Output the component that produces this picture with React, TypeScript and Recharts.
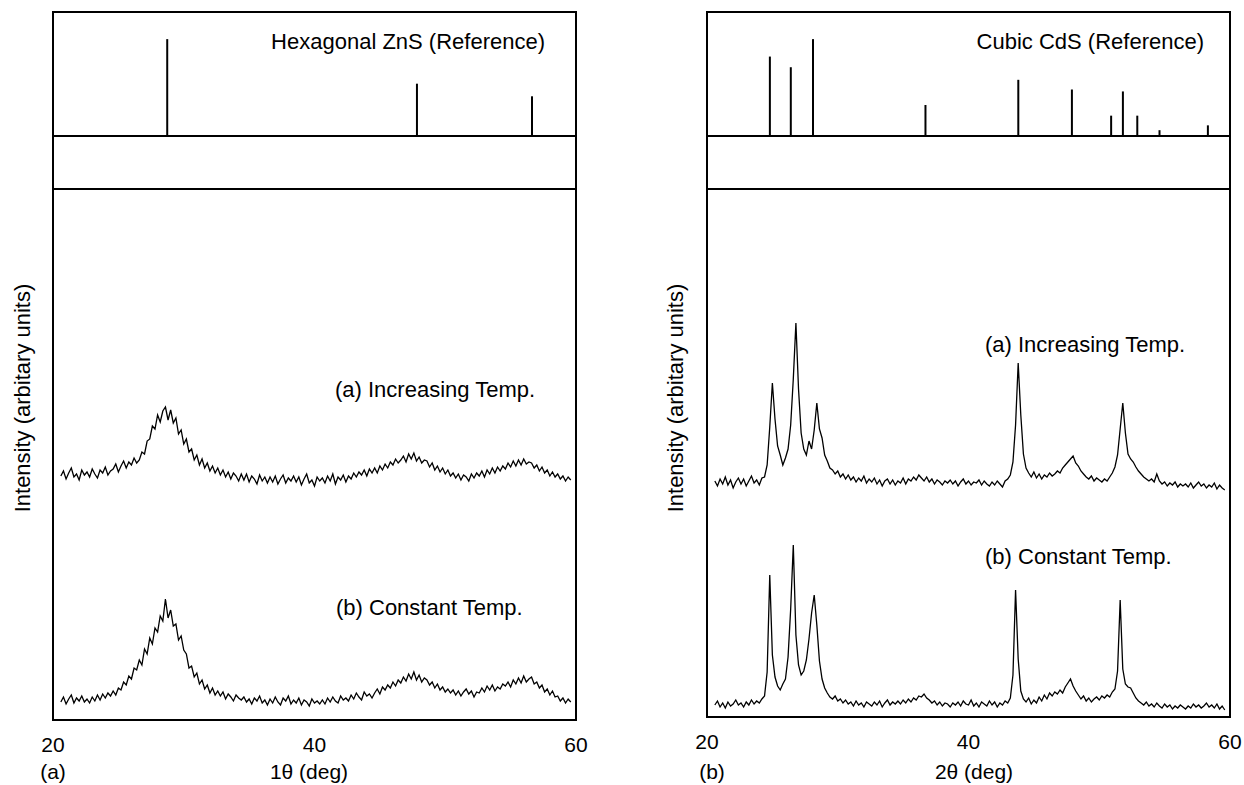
import { BarChart, Bar, LineChart, Line, XAxis, YAxis } from 'recharts';

// XRD scans: 20.6° .. 59.6°, one reading every 0.2°
const SCAN_START = 20.6;
const SCAN_STEP = 0.2;

const xTicks = [20, 40, 60];

// reference patterns (relative intensity)
const znsRefAngles = [28.7, 47.8, 56.6];
const znsRefIntensity = [100, 54, 41];

const cdsRefAngles = [24.8, 26.4, 28.1, 36.7, 43.8, 47.9, 50.9, 51.8, 52.9, 54.6, 58.3];
const cdsRefIntensity = [82, 71, 100, 32, 58, 48, 21, 46, 21, 6, 11];

// ZnS, panel (a)
const znsIncreasing = [
  244, 249, 241, 247, 252, 243, 246, 240, 250, 245,
  248, 243, 251, 246, 242, 250, 247, 253, 245, 249,
  251, 256, 248, 254, 259, 252, 258, 255, 262, 257,
  260, 268, 266, 279, 281, 294, 291, 305, 298, 309,
  313, 300, 310, 297, 302, 286, 290, 276, 281, 268,
  271, 260, 265, 255, 261, 252, 257, 249, 254, 247,
  252, 245, 250, 243, 248, 241, 247, 244, 239, 246,
  240, 246, 238, 244, 241, 236, 245, 239, 243, 237,
  243, 238, 244, 236, 241, 245, 237, 242, 239, 244,
  238, 243, 235, 241, 246, 237, 240, 234, 243, 239,
  242, 237, 244, 239, 246, 236, 243, 240, 245, 238,
  244, 241, 247, 243, 248, 245, 250, 244, 251, 247,
  252, 247, 254, 250, 256, 252, 258, 255, 261, 257,
  260, 264, 258, 266, 261, 267, 259, 263, 257, 260,
  259, 253, 257, 250, 254, 248, 252, 246, 250, 244,
  247, 242, 246, 240, 245, 243, 239, 246, 242, 247,
  244, 249, 243, 250, 246, 252, 247, 253, 249, 254,
  251, 257, 253, 259, 254, 260, 255, 261, 256, 258,
  257, 252, 255, 249, 253, 247, 250, 244, 248, 243,
  246, 241, 244, 239, 243, 240,
];
const znsConstant = [
  18, 23, 16, 21, 25, 17, 22, 19, 24, 18,
  21, 17, 23, 19, 25, 20, 26, 22, 27, 24,
  29, 25, 32, 30, 38, 35, 44, 41, 52, 50,
  60, 55, 71, 66, 82, 76, 92, 88, 104, 99,
  121, 102, 110, 94, 96, 80, 84, 70, 66, 52,
  54, 43, 47, 36, 40, 31, 35, 27, 32, 25,
  29, 24, 28, 21, 26, 23, 19, 25, 22, 20,
  23, 18, 21, 16, 22, 19, 24, 17, 20, 15,
  21, 17, 23, 18, 15, 22, 19, 24, 16, 20,
  17, 22, 15, 20, 18, 14, 21, 17, 19, 16,
  20, 16, 22, 18, 23, 19, 17, 24, 20, 22,
  19, 25, 21, 27, 23, 20, 28, 24, 26, 22,
  27, 31, 26, 33, 30, 35, 32, 38, 34, 40,
  37, 43, 39, 46, 41, 48, 40, 45, 38, 42,
  40, 35, 38, 32, 36, 30, 33, 28, 31, 27,
  30, 25, 29, 24, 28, 31, 26, 29, 23, 28,
  27, 32, 28, 34, 30, 35, 29, 33, 31, 36,
  34, 38, 33, 40, 36, 42, 37, 44, 38, 41,
  43, 36, 38, 32, 35, 28, 31, 25, 29, 23,
  24, 19, 22, 17, 21, 18,
];

// CdS, panel (b)
const cdsIncreasing = [
  236, 231, 238, 233, 240, 232, 237, 229, 235, 239,
  233, 238, 231, 236, 241, 234, 237, 232, 239, 240,
  252, 290, 334, 298, 271, 262, 252, 259, 268, 292,
  338, 394, 328, 284, 268, 262, 276, 268, 287, 314,
  288, 279, 262, 256, 249, 247, 243, 246, 240, 243,
  238, 242, 237, 240, 235, 239, 236, 241, 234, 238,
  235, 239, 233, 237, 231, 236, 238, 233, 237, 232,
  236, 234, 239, 233, 238, 236, 240, 237, 242, 239,
  236, 240, 235, 238, 233, 237, 235, 232, 236, 234,
  237, 233, 236, 231, 235, 238, 233, 236, 232, 235,
  234, 237, 232, 236, 233, 231, 235, 232, 236, 233,
  230, 236, 238, 242, 255, 292, 354, 302, 263, 249,
  244, 240, 245, 239, 243, 238, 242, 240, 244, 241,
  243, 246, 244, 249, 252, 255, 258, 261, 254, 251,
  246, 243, 240, 238, 241, 236, 239, 237, 235, 238,
  236, 240, 244, 250, 262, 288, 314, 284, 263, 258,
  255, 250, 246, 243, 240, 238, 236, 238, 235, 243,
  236, 233, 235, 231, 234, 232, 235, 230, 233, 231,
  233, 230, 234, 229, 232, 235, 231, 233, 229, 232,
  230, 234, 228, 232, 229, 227,
];
const cdsConstant = [
  12, 16, 10, 14, 9, 15, 11, 13, 17, 12,
  14, 10, 15, 12, 17, 13, 16, 14, 18, 21,
  45, 142, 62, 40, 31, 27, 33, 38, 60, 108,
  172, 82, 52, 42, 46, 57, 78, 104, 122, 92,
  56, 38, 29, 24, 20, 18, 21, 16, 18, 14,
  17, 13, 15, 11, 16, 12, 14, 10, 15, 13,
  11, 15, 12, 16, 10, 14, 17, 12, 15, 13,
  16, 13, 17, 14, 18, 15, 19, 17, 21, 20,
  23, 19, 17, 14, 16, 12, 15, 11, 14, 13,
  10, 14, 12, 15, 11, 16, 13, 12, 17, 11,
  14, 10, 15, 13, 11, 16, 12, 15, 10, 14,
  12, 16, 14, 19, 42, 127, 58, 26, 18, 15,
  19, 13, 17, 14, 20, 16, 22, 18, 24, 21,
  25, 23, 27, 24, 30, 34, 38, 31, 26, 22,
  18, 21, 16, 19, 15, 18, 20, 17, 21, 19,
  22, 20, 25, 28, 46, 117, 48, 33, 30, 29,
  24, 19, 16, 14, 12, 15, 11, 13, 10, 14,
  11, 9, 13, 10, 12, 8, 11, 9, 12, 10,
  8, 11, 9, 13, 10, 12, 9, 11, 14, 10,
  12, 9, 13, 8, 11, 7,
];

const FONT = '"Liberation Sans", Arial, Helvetica, sans-serif';
const PLOT_W = 523;
const PAD = 24;
const TOP = 12;
const SPLIT1 = 136;
const SPLIT2 = 189;
const AXIS_H = 50;

const refRows = (angles: number[], vals: number[]) =>
  angles.map((angle, i) => ({ angle, intensity: vals[i] }));

const scanRows = (a: number[], b: number[]) =>
  a.map((v, i) => ({ angle: +(SCAN_START + i * SCAN_STEP).toFixed(1), a: v, b: b[i] }));

function Txt({ x, y, size = 21, anchor = 'start', children }: any) {
  const w = 400;
  const left = anchor === 'middle' ? x - w / 2 : anchor === 'end' ? x - w : x;
  return (
    <div
      style={{
        position: 'absolute',
        left,
        top: y - size / 2,
        width: w,
        textAlign: anchor === 'middle' ? 'center' : anchor === 'end' ? 'right' : 'left',
        fontSize: size,
        lineHeight: `${size}px`,
        fontFamily: FONT,
        color: '#000',
        whiteSpace: 'nowrap',
      }}
    >
      {children}
    </div>
  );
}

function Panel({ x, bottom, title, titleRight, refData, data, labelA, labelB, yLabelX, tag, tagX, xLabel, xLabelX }: any) {
  const mainH = bottom - SPLIT2;
  return (
    <>
      {/* frame and the blank band under the reference pattern */}
      <div style={{ position: 'absolute', left: x - 1, top: TOP - 1, width: PLOT_W + 2, height: bottom - TOP + 2, border: '2px solid #000', boxSizing: 'border-box' }} />
      <div style={{ position: 'absolute', left: x - 1, top: SPLIT1 - 1, width: PLOT_W + 2, height: 2, background: '#000' }} />
      <div style={{ position: 'absolute', left: x - 1, top: SPLIT2 - 1, width: PLOT_W + 2, height: 2, background: '#000' }} />

      <div style={{ position: 'absolute', left: x - PAD, top: TOP }}>
        <BarChart width={PLOT_W + 2 * PAD} height={SPLIT1 - TOP} data={refData} margin={{ top: 0, right: PAD, bottom: 0, left: PAD }}>
          <XAxis type="number" dataKey="angle" domain={[20, 60]} hide />
          <YAxis type="number" domain={[0, 128]} hide allowDataOverflow />
          <Bar dataKey="intensity" fill="#000" barSize={2} isAnimationActive={false} />
        </BarChart>
      </div>

      <div style={{ position: 'absolute', left: x - PAD, top: SPLIT2 }}>
        <LineChart width={PLOT_W + 2 * PAD} height={mainH + AXIS_H} data={data} margin={{ top: 0, right: PAD, bottom: 0, left: PAD }}>
          <XAxis
            type="number"
            dataKey="angle"
            domain={[20, 60]}
            ticks={xTicks}
            interval={0}
            axisLine={false}
            tickLine={false}
            tickSize={0}
            tickMargin={17}
            height={AXIS_H}
            tick={{ fontSize: 21, fill: '#000', fontFamily: FONT }}
          />
          <YAxis type="number" domain={[0, mainH]} hide allowDataOverflow />
          <Line type="linear" dataKey="a" stroke="#000" strokeWidth={1.3} dot={false} isAnimationActive={false} />
          <Line type="linear" dataKey="b" stroke="#000" strokeWidth={1.3} dot={false} isAnimationActive={false} />
        </LineChart>
      </div>

      <Txt x={titleRight} y={42} size={22} anchor="end">{title}</Txt>
      <Txt x={labelA[0]} y={labelA[1]} size={22}>(a) Increasing Temp.</Txt>
      <Txt x={labelB[0]} y={labelB[1]} size={22}>(b) Constant Temp.</Txt>
      <Txt x={tagX} y={771} size={21} anchor="middle">{tag}</Txt>
      <Txt x={xLabelX} y={771} size={21} anchor="middle">{xLabel}</Txt>

      <div
        style={{
          position: 'absolute',
          left: yLabelX - 150,
          top: 398 - 11,
          width: 300,
          height: 22,
          lineHeight: '22px',
          textAlign: 'center',
          transform: 'rotate(-90deg)',
          fontSize: 22,
          fontFamily: FONT,
          color: '#000',
          whiteSpace: 'nowrap',
        }}
      >
        Intensity (arbitary units)
      </div>
    </>
  );
}

export default function App() {
  return (
    <div style={{ position: 'absolute', left: 0, top: 0, width: 1244, height: 785, background: '#fff' }}>
      <Panel
        x={53}
        bottom={720}
        title="Hexagonal ZnS (Reference)"
        titleRight={545}
        refData={refRows(znsRefAngles, znsRefIntensity)}
        data={scanRows(znsIncreasing, znsConstant)}
        labelA={[335, 390]}
        labelB={[336, 608]}
        yLabelX={23}
        tag="(a)"
        tagX={53}
        xLabel="1θ (deg)"
        xLabelX={309}
      />
      <Panel
        x={707}
        bottom={717}
        title="Cubic CdS (Reference)"
        titleRight={1204}
        refData={refRows(cdsRefAngles, cdsRefIntensity)}
        data={scanRows(cdsIncreasing, cdsConstant)}
        labelA={[985, 345]}
        labelB={[985, 557]}
        yLabelX={676}
        tag="(b)"
        tagX={712}
        xLabel="2θ (deg)"
        xLabelX={974}
      />
    </div>
  );
}
